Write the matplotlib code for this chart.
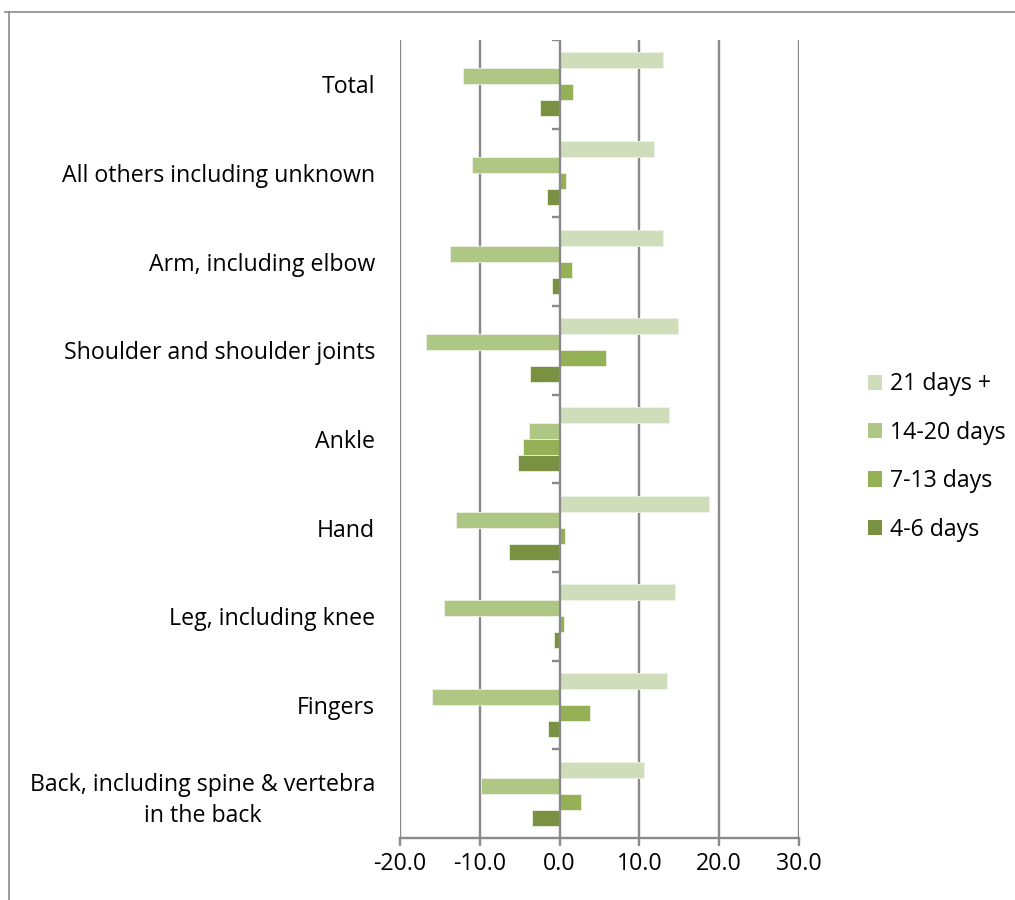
import matplotlib
matplotlib.use("Agg")
import matplotlib.pyplot as plt
import numpy as np
from matplotlib.lines import Line2D
from matplotlib.patches import Patch

# Body parts, listed bottom to top
categories = [
    "Back, including spine & vertebra\nin the back",
    "Fingers",
    "Leg, including knee",
    "Hand",
    "Ankle",
    "Shoulder and shoulder joints",
    "Arm, including elbow",
    "All others including unknown",
    "Total",
]

days_21_plus = [10.6, 13.5, 14.5, 18.7, 13.7, 14.8, 13.0, 11.8, 13.0]
days_14_20 = [-9.8, -16.0, -14.5, -13.0, -3.8, -16.8, -13.7, -11.0, -12.1]
days_7_13 = [2.7, 3.8, 0.6, 0.7, -4.6, 5.8, 1.6, 0.8, 1.7]
days_4_6 = [-3.5, -1.4, -0.7, -6.3, -5.2, -3.7, -0.9, -1.6, -2.5]

series_names = ["21 days +", "14-20 days", "7-13 days", "4-6 days"]
series_values = [days_21_plus, days_14_20, days_7_13, days_4_6]
series_colors = ["#D0DDBA", "#AFC785", "#94B156", "#7A9142"]

x_ticks = [-20, -10, 0, 10, 20, 30]

FONT = ["Open Sans", "DejaVu Sans"]
plt.rcParams["font.family"] = FONT
GRID = "#8A8A8A"
FS = 16.7

W, H = 1015, 900
fig = plt.figure(figsize=(W / 100, H / 100), dpi=100)
ax = fig.add_axes([400 / W, 1 - 838 / H, (799 - 400) / W, (838 - 40) / H])

y = np.arange(len(categories))
bar_h = 0.18
offsets = [0.27, 0.09, -0.09, -0.27]
for vals, off, col, name in zip(series_values, offsets, series_colors, series_names):
    ax.barh(y + off, vals, height=bar_h, color=col, edgecolor="#EEF3E6",
            linewidth=0.6, label=name, zorder=3)

ax.set_xlim(-20, 30)
ax.set_ylim(-0.5, len(categories) - 0.5)

# vertical gridlines
for t in x_ticks:
    if t != 0:
        ax.axvline(t, color=GRID, linewidth=1.7, zorder=1)

# category axis drawn at zero, with small tick marks between groups
ax.axvline(0, color=GRID, linewidth=1.7, zorder=4)
bounds = np.arange(len(categories) + 1) - 0.5
ax.hlines(bounds[1:], -1.0, 0, color=GRID, linewidth=1.7, zorder=4)

for side in ["top", "right", "left"]:
    ax.spines[side].set_visible(False)
ax.spines["bottom"].set_color(GRID)
ax.spines["bottom"].set_linewidth(1.7)

ax.set_xticks(x_ticks)
ax.set_xticklabels([f"{t:.1f}" for t in x_ticks], fontsize=FS, color="black")
ax.tick_params(axis="x", direction="out", length=6, width=1.7, color=GRID, pad=4)

ax.set_yticks(y)
ax.set_yticklabels(categories, fontsize=FS, color="black",
                   multialignment="center", linespacing=1.4)
ax.tick_params(axis="y", length=0, pad=18)

# legend
handles = [Patch(facecolor=c, edgecolor="none") for c in series_colors]
fig.legend(handles, series_names, loc="center left",
           bbox_to_anchor=(847 / W, 1 - 457 / H), frameon=False,
           fontsize=FS, handlelength=0.62, handleheight=0.62,
           handletextpad=0.33, labelspacing=1.05)

# chart frame
fig.add_artist(Line2D([5 / W, 1.0], [1 - 12 / H, 1 - 12 / H], color=GRID,
                      linewidth=1.2, transform=fig.transFigure))
fig.add_artist(Line2D([9 / W, 9 / W], [1 - 12 / H, 0], color=GRID,
                      linewidth=1.2, transform=fig.transFigure))

fig.savefig("out.png", dpi=100)
